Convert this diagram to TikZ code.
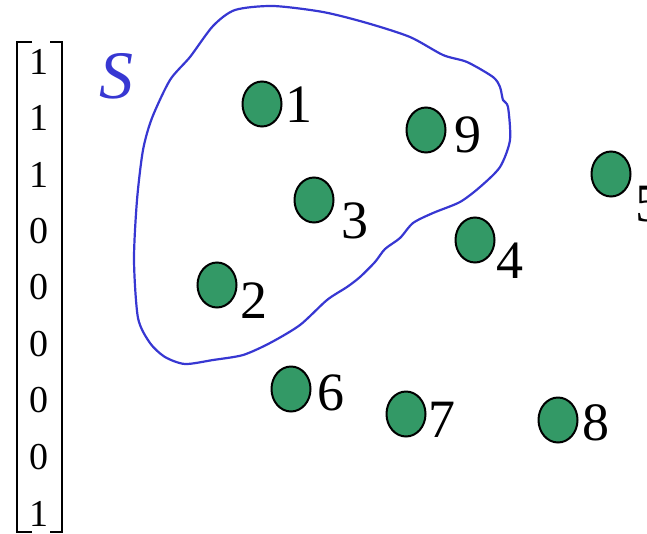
\documentclass[tikz,border=0pt]{standalone}
\usepackage{fontspec}
\setmainfont{LiberationSerif}[Extension=.ttf, UprightFont=*-Regular, ItalicFont=*-Italic, BoldFont=*-Bold]
\usetikzlibrary{shapes.geometric}
\definecolor{vgreen}{RGB}{51,153,102}
\definecolor{setblue}{RGB}{55,55,210}
\tikzset{
  vertex/.style={ellipse, draw=black, line width=2pt, fill=vgreen,
    minimum width=39pt, minimum height=45pt, inner sep=0pt},
  vlabel/.style={inner sep=0pt, font=\fontsize{54}{54}\selectfont},
  ventry/.style={inner sep=0pt, font=\fontsize{38}{38}\selectfont},
  brack/.style={line width=2pt, black},
}
\begin{document}
\begin{tikzpicture}[x=1pt, y=-1pt]
\useasboundingbox (0,0) rectangle (647,533);
\clip (0,0) rectangle (647,533);

% indicator vector of S
\draw[brack] (32,42) -- (17,42) -- (17,532) -- (32,532);
\draw[brack] (50,42) -- (62,42) -- (62,532) -- (50,532);
\foreach \v [count=\i] in {1,1,1,0,0,0,0,0,1}
  \node[ventry] (e\i) at (39,{5+56.5*\i}) {\v};

% the set S
\node[inner sep=0pt, text=setblue, font=\fontsize{68}{68}\selectfont\itshape] (S) at (116,76) {S};
\draw[setblue, line width=2.2pt] plot[smooth cycle, tension=0.45] coordinates {
  (134,260) (137,200) (143,150) (152,118) (170,80) (190,57) (213,26) (235,10)
  (273,6) (323,12) (367,23) (410,37) (443,55) (467,62) (493,77) (500,87)
  (503,100) (508,107) (510,140) (500,167) (480,187) (460,202) (433,213)
  (413,223) (400,238) (385,249) (375,262) (360,277) (347,287) (327,300)
  (300,325) (270,343) (243,355) (213,360) (185,364) (165,357) (150,343) (138,318)};

% vertices
\node[vertex] (n1) at (262,104) {};
\node[vertex] (n2) at (217,285) {};
\node[vertex] (n3) at (314,200) {};
\node[vertex] (n4) at (475,240) {};
\node[vertex] (n5) at (611,174) {};
\node[vertex] (n6) at (291,389) {};
\node[vertex] (n7) at (406,414) {};
\node[vertex] (n8) at (558,420) {};
\node[vertex] (n9) at (426,130) {};

% vertex numbers
\node[vlabel] (l1) at (299,105) {1};
\node[vlabel] (l2) at (254,301) {2};
\node[vlabel] (l3) at (355,221) {3};
\node[vlabel] (l4) at (510,261) {4};
\node[vlabel] (l5) at (649,204) {5};
\node[vlabel] (l6) at (331,393) {6};
\node[vlabel] (l7) at (442,420) {7};
\node[vlabel] (l8) at (596,423) {8};
\node[vlabel] (l9) at (468,135) {9};
\end{tikzpicture}
\end{document}
